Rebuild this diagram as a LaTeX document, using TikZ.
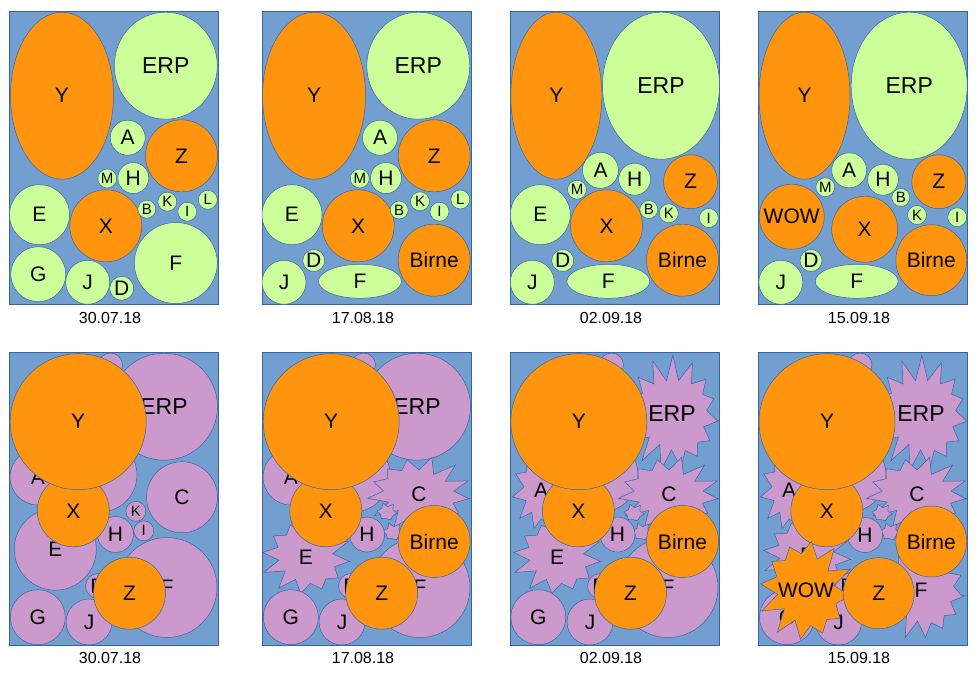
\documentclass[tikz,border=0pt]{standalone}
\usepackage{fontspec}
\setmainfont{Liberation Sans}
\usetikzlibrary{shapes.geometric}

\definecolor{bgblue}{HTML}{729FCF}
\definecolor{edge}{HTML}{3465A4}
\definecolor{limeg}{HTML}{CCFF99}
\definecolor{orangec}{HTML}{FF950E}
\definecolor{plumc}{HTML}{CC99CC}

\tikzset{
  panel/.style={fill=bgblue, draw=edge, line width=.5pt},
  lif/.style={fill=limeg, draw=edge, line width=.5pt},
  orf/.style={fill=orangec, draw=edge, line width=.5pt},
  plf/.style={fill=plumc, draw=edge, line width=.5pt},
  lime/.style={lif, ellipse, inner sep=0pt},
  orng/.style={orf, ellipse, inner sep=0pt},
  plum/.style={plf, ellipse, inner sep=0pt},
  dia/.style={minimum width=#1, minimum height=#1},
  wh/.style 2 args={minimum width=#1, minimum height=#2},
  big/.style={font=\fontsize{21}{21}\selectfont},
  lrg/.style={font=\fontsize{23}{23}\selectfont},
  sml/.style={font=\fontsize{15}{15}\selectfont},
  date/.style={font=\fontsize{16}{16}\selectfont},
  tx/.style={label={[big]center:#1}},
  txl/.style={label={[lrg]center:#1}},
  ts/.style={label={[sml]center:#1}}
}

% starburst: style, centre, rx, ry, points, name, text
\newcommand\burst[7]{%
  \pgfmathtruncatemacro\bn{2*#5}%
  \draw[#1, shift={#2}] plot[samples at={0,...,\bn}]
    ({#3*(1-0.32*mod(\x,2)+0.07*sin(151*\x))*cos(180*\x/#5+7)},
     {#4*(1-0.32*mod(\x,2)+0.07*sin(151*\x))*sin(180*\x/#5+7)}) -- cycle;
  \node[big] (#6) at #2 {#7};
}

\begin{document}
\begin{tikzpicture}[x=1pt, y=-1pt]
\useasboundingbox (0,0) rectangle (980,675);

\foreach \dx/\dt [count=\i] in {0/30.07.18, 253/17.08.18, 501/02.09.18, 749/15.09.18}
{
    \draw[panel] (9+\dx,11) rectangle (218+\dx,304);
    \draw[panel] (9+\dx,352) rectangle (218+\dx,645);
    \node[date] (dt\i) at (110+\dx,318) {\dt};
    \node[date] (db\i) at (110+\dx,658) {\dt};
}

% top row
\begin{scope}[name prefix=t1-]
\node[orng, wh={103}{167}, tx=Y] (Y) at (62,95.7) {};
\node[lime, wh={103}{107}, txl=ERP] (ERP) at (165.8,65.7) {};
\node[lime, dia=35, tx=A] (A) at (127.7,137.7) {};
\node[orng, dia=72, tx=Z] (Z) at (181.5,155.8) {};
\node[lime, dia=19, ts=M] (M) at (107.2,178.5) {};
\node[lime, dia=31, tx=H] (H) at (133.3,178) {};
\node[lime, dia=60, tx=E] (E) at (39.5,214.7) {};
\node[orng, dia=72, tx=X] (X) at (105.8,225.8) {};
\node[lime, dia=18, ts=B] (B) at (146.8,209.2) {};
\node[lime, dia=19, ts=K] (K) at (167.3,201.7) {};
\node[lime, dia=19, ts=I] (I) at (187.3,211.7) {};
\node[lime, dia=19, ts=L] (L) at (207.8,199.8) {};
\node[lime, wh={83}{81}, tx=F] (F) at (175.8,263) {};
\node[lime, dia=55, tx=G] (G) at (38.3,274.2) {};
\node[lime, dia=44, tx=J] (J) at (87.7,282.3) {};
\node[lime, dia=24, tx=D] (D) at (121.7,288.3) {};
\end{scope}

\begin{scope}[xshift=253pt, name prefix=t2-]
\node[orng, wh={103}{167}, tx=Y] (Y) at (61,95.7) {};
\node[lime, wh={103}{107}, txl=ERP] (ERP) at (165.3,65.7) {};
\node[lime, dia=35, tx=A] (A) at (127,137.7) {};
\node[orng, dia=72, tx=Z] (Z) at (181.2,155.8) {};
\node[lime, dia=19, ts=M] (M) at (106.8,178.5) {};
\node[lime, dia=31, tx=H] (H) at (133,178) {};
\node[lime, dia=60, tx=E] (E) at (39,214.7) {};
\node[orng, dia=72, tx=X] (X) at (105.2,225.8) {};
\node[lime, dia=18, ts=B] (B) at (146.2,210) {};
\node[lime, dia=19, ts=K] (K) at (167,201.3) {};
\node[lime, dia=19, ts=I] (I) at (186.5,211.7) {};
\node[lime, dia=19, ts=L] (L) at (207.3,199.5) {};
\node[orng, dia=72, tx=Birne] (Bi) at (181.2,260.2) {};
\node[lime, dia=22, tx=D] (D) at (60.8,260.5) {};
\node[lime, dia=44, tx=J] (J) at (31,282.3) {};
\node[lime, wh={83}{34}, tx=F] (F) at (107,281.3) {};
\end{scope}

\begin{scope}[xshift=501pt, name prefix=t3-]
\node[orng, wh={91}{167}, tx=Y] (Y) at (55.3,95.7) {};
\node[lime, wh={117}{147}, txl=ERP] (ERP) at (160,85.7) {};
\node[lime, dia=36, tx=A] (A) at (99.5,170.3) {};
\node[lime, dia=32, tx=H] (H) at (133.7,179.2) {};
\node[orng, dia=54, tx=Z] (Z) at (189.5,181.7) {};
\node[lime, dia=19, ts=M] (M) at (76,189.7) {};
\node[lime, dia=60, tx=E] (E) at (39.3,214.7) {};
\node[orng, dia=72, tx=X] (X) at (105.5,225.8) {};
\node[lime, dia=18, ts=B] (B) at (147.8,209.5) {};
\node[lime, dia=19, ts=K] (K) at (167.8,213.3) {};
\node[lime, dia=19, ts=I] (I) at (207.8,218) {};
\node[orng, dia=72, tx=Birne] (Bi) at (181.5,260.2) {};
\node[lime, dia=22, tx=D] (D) at (61.7,260.5) {};
\node[lime, dia=44, tx=J] (J) at (31.3,282.3) {};
\node[lime, wh={83}{34}, tx=F] (F) at (107.3,281.3) {};
\end{scope}

\begin{scope}[xshift=749pt, name prefix=t4-]
\node[orng, wh={91}{167}, tx=Y] (Y) at (55.5,95.7) {};
\node[lime, wh={116}{147}, txl=ERP] (ERP) at (160.2,85.7) {};
\node[lime, dia=35, tx=A] (A) at (100.2,170.3) {};
\node[lime, dia=31, tx=H] (H) at (134,179.7) {};
\node[orng, dia=54, tx=Z] (Z) at (189.8,181.7) {};
\node[lime, dia=19, ts=M] (M) at (76.3,187.2) {};
\node[lime, dia=18, ts=B] (B) at (151.8,197.5) {};
\node[lime, dia=19, ts=K] (K) at (168,215) {};
\node[lime, dia=19, ts=I] (I) at (208.2,217.2) {};
\node[orng, dia=65, tx=WOW] (W) at (42.7,216.7) {};
\node[orng, dia=66, tx=X] (X) at (115.7,229.2) {};
\node[orng, dia=71, tx=Birne] (Bi) at (182.3,260.2) {};
\node[lime, dia=22, tx=D] (D) at (62,260.5) {};
\node[lime, dia=44, tx=J] (J) at (31.8,282.3) {};
\node[lime, wh={83}{34}, tx=F] (F) at (107.7,281.3) {};
\end{scope}

% bottom row
\begin{scope}[name prefix=b1-]
\node[plum, dia=24] (T) at (110.5,365) {};
\node[plum, dia=107, txl=ERP] (ERP) at (164,406.7) {};
\node[plum, dia=56, tx=A] (A) at (38,477) {};
\node[plum, dia=74] (M) at (100,475) {};
\node[plum, dia=71, tx=C] (C) at (182,497.2) {};
\node[plum, dia=20, ts=K] (K) at (135.8,511.3) {};
\node[plum, dia=20, ts=I] (I) at (143.8,530.8) {};
\node[plum, dia=36, tx=H] (H) at (115.5,534.5) {};
\node[plum, dia=82, tx=E] (E) at (55.3,549.2) {};
\node[plum, dia=100, tx=F] (F) at (167,587.5) {};
\node[plum, dia=25, tx=D] (D) at (98,586) {};
\node[plum, dia=55, tx=G] (G) at (37.8,617.2) {};
\node[plum, dia=46, tx=J] (J) at (89,622) {};
\node[orng, dia=72, tx=X] (X) at (73.3,510.8) {};
\node[orng, dia=136, tx=Y] (Y) at (78.2,421.7) {};
\node[orng, dia=72, tx=Z] (Z) at (129.5,593.2) {};
\end{scope}

\begin{scope}[xshift=253pt, name prefix=b2-]
\node[plum, dia=24] (T) at (110.5,365) {};
\node[plum, dia=107, txl=ERP] (ERP) at (164,406.7) {};
\node[plum, dia=56, tx=A] (A) at (38,477) {};
\node[plum, dia=74] (M) at (100,475) {};
\burst{plf}{(166,494)}{51}{36}{13}{C}{C}
\burst{plf}{(134,512)}{10}{9}{6}{K}{}
\burst{plf}{(140,532)}{10}{9}{6}{I}{}
\node[plum, dia=35, tx=H] (H) at (114,534.5) {};
\burst{plf}{(53,557)}{43}{37}{12}{E}{E}
\node[plum, dia=100, tx=F] (F) at (167,587.5) {};
\node[plum, dia=25, tx=D] (D) at (98,586) {};
\node[plum, dia=55, tx=G] (G) at (37.8,617.2) {};
\node[plum, dia=46, tx=J] (J) at (89,622) {};
\node[orng, dia=72, tx=X] (X) at (72.8,510.8) {};
\node[orng, dia=136, tx=Y] (Y) at (78.2,421.7) {};
\node[orng, dia=72, tx=Birne] (Bi) at (181.2,541.5) {};
\node[orng, dia=72, tx=Z] (Z) at (128.7,593.2) {};
\end{scope}

\begin{scope}[xshift=501pt, name prefix=b3-]
\node[plum, dia=24] (T) at (110.5,365) {};
\burst{plf}{(171,414)}{47}{55}{15}{ERP}{\fontsize{23}{23}\selectfont ERP}
\burst{plf}{(40,490)}{27}{40}{11}{A}{A}
\node[plum, dia=74] (M) at (100,475) {};
\burst{plf}{(168,494)}{50}{36}{13}{C}{C}
\burst{plf}{(133,513)}{10}{9}{6}{K}{}
\burst{plf}{(141,532)}{10}{9}{6}{I}{}
\node[plum, dia=35, tx=H] (H) at (116.5,534.5) {};
\burst{plf}{(56,557)}{43}{37}{12}{E}{E}
\node[plum, dia=100, tx=F] (F) at (167,587.5) {};
\node[plum, dia=25, tx=D] (D) at (99,586) {};
\node[plum, dia=55, tx=G] (G) at (37.3,617.2) {};
\node[plum, dia=46, tx=J] (J) at (89,622) {};
\node[orng, dia=72, tx=X] (X) at (77.3,510.8) {};
\node[orng, dia=136, tx=Y] (Y) at (77.8,421.7) {};
\node[orng, dia=72, tx=Birne] (Bi) at (181.5,541.5) {};
\node[orng, dia=72, tx=Z] (Z) at (129.5,593.2) {};
\end{scope}

\begin{scope}[xshift=749pt, name prefix=b4-]
\node[plum, dia=24] (T) at (111,365) {};
\burst{plf}{(172,414)}{47}{55}{15}{ERP}{\fontsize{23}{23}\selectfont ERP}
\burst{plf}{(40,490)}{27}{40}{11}{A}{A}
\node[plum, dia=74] (M) at (100,475) {};
\burst{plf}{(168,494)}{50}{36}{13}{C}{C}
\burst{plf}{(133,513)}{10}{9}{6}{K}{}
\burst{plf}{(141,532)}{10}{9}{6}{I}{}
\node[plum, dia=35, tx=H] (H) at (116,535) {};
\burst{plf}{(58,555)}{43}{37}{12}{E}{E}
\burst{plf}{(172,590)}{44}{48}{14}{F}{F}
\node[plum, dia=25, tx=D] (D) at (99,586) {};
\node[plum, dia=55, tx=G] (G) at (38,617.2) {};
\node[plum, dia=46, tx=J] (J) at (89.5,622) {};
\node[orng, dia=72, tx=X] (X) at (77.8,510.8) {};
\node[orng, dia=136, tx=Y] (Y) at (78,421.7) {};
\burst{orf}{(57,590)}{45}{50}{12}{W}{WOW}
\node[orng, dia=71, tx=Birne] (Bi) at (182.3,541.5) {};
\node[orng, dia=71, tx=Z] (Z) at (129.7,593.2) {};
\end{scope}
\end{tikzpicture}
\end{document}
